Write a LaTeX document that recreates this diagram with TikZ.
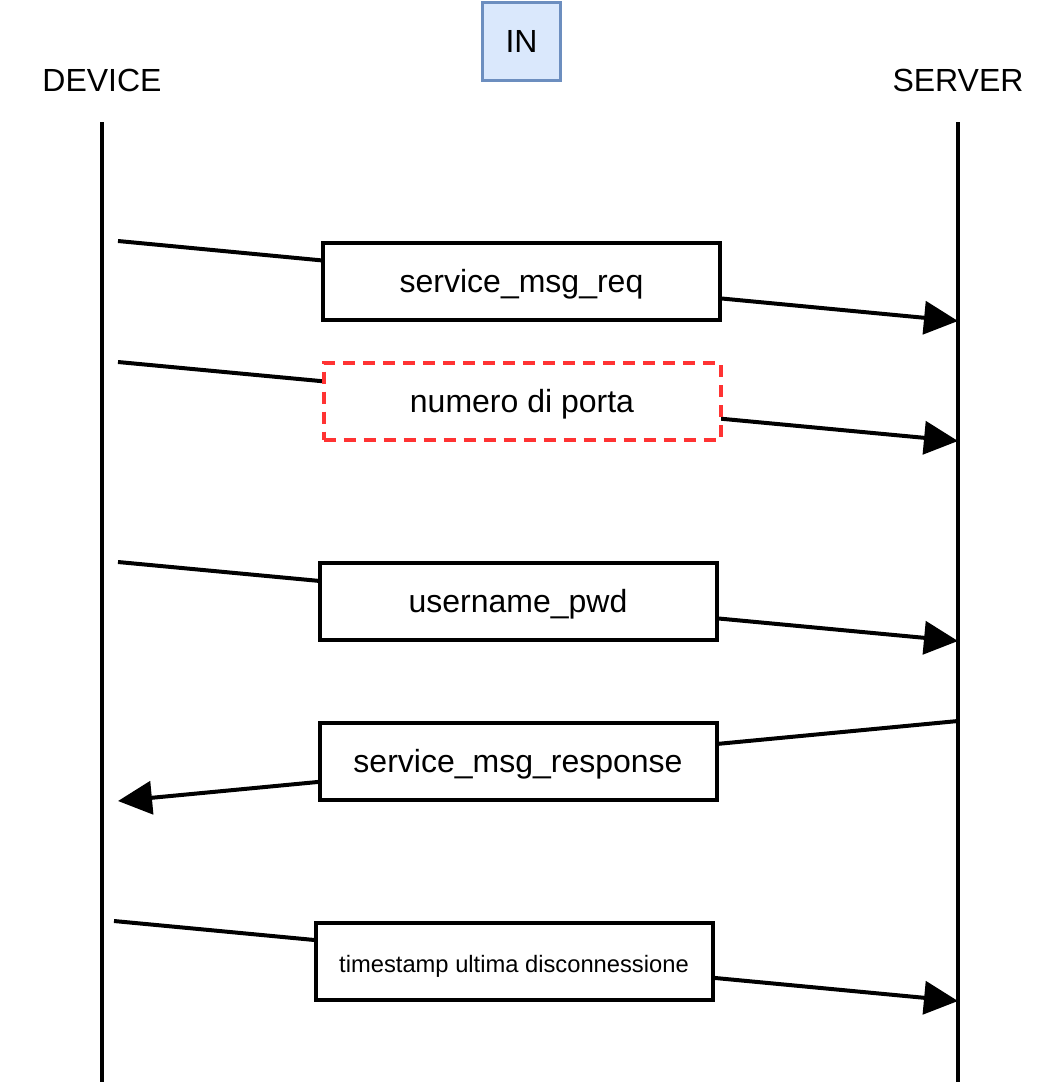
\documentclass[tikz,border=0pt]{standalone}
\usepackage{fontspec}
\setmainfont{Liberation Sans}
\usetikzlibrary{arrows.meta}
\definecolor{inFill}{HTML}{DAE8FC}
\definecolor{inDraw}{HTML}{6C8EBF}
\definecolor{dashRed}{HTML}{FF3333}
\begin{document}
\begin{tikzpicture}[x=0.75pt,y=-0.75pt,
  lifeline/.style={line width=3pt},
  msg/.style={line width=3pt, -{Triangle[length=25.5pt,width=24.75pt]}},
  msgbox/.style={draw, line width=3pt, fill=white, inner sep=0pt, outer sep=0pt,
    minimum width=297.75pt, minimum height=57.75pt, text height=22pt, text depth=5.5pt,
    font=\fontsize{24}{28}\selectfont},
  dashbox/.style={msgbox, draw=dashRed, dash pattern=on 9pt off 6pt},
  smallbox/.style={msgbox, font=\fontsize{17.8}{21}\selectfont},
  actor/.style={font=\fontsize{24}{28}\selectfont, inner sep=0pt},
  inbox/.style={draw=inDraw, fill=inFill, line width=2.25pt, minimum width=58.5pt,
    minimum height=58.5pt, inner sep=0pt, font=\fontsize{24}{28}\selectfont}
]
\useasboundingbox (0,0) rectangle (1060,1088);
% actors
\node[actor] (device) at (102,80) {DEVICE};
\node[actor] (server) at (958,80) {SERVER};
\node[inbox] (in) at (521.5,41.5) {IN};
% lifelines
\coordinate (dtop) at (102,122);
\coordinate (dbot) at (102,1082);
\coordinate (stop) at (958,122);
\coordinate (sbot) at (958,1082);
\draw[lifeline] (dtop) -- (dbot);
\draw[lifeline] (stop) -- (sbot);
% message end points
\coordinate (d1) at (118,241);  \coordinate (s1) at (958,321);
\coordinate (d2) at (118,362);  \coordinate (s2) at (958,441);
\coordinate (d3) at (118,562);  \coordinate (s3) at (958,641);
\coordinate (s4) at (958,721);  \coordinate (d4) at (118,801);
\coordinate (d5) at (114,921);  \coordinate (s5) at (958,1001);
\draw[msg] (d1) -- (s1);
\draw[msg] (d2) -- (s2);
\draw[msg] (d3) -- (s3);
\draw[msg] (s4) -- (d4);
\draw[msg] (d5) -- (s5);
% labels
\node[msgbox] (m1) at (521.5,281.5) {service\_msg\_req};
\node[dashbox] (m2) at (522,401) {numero di porta};
\node[msgbox] (m3) at (518,601.5) {username\_pwd};
\node[msgbox] (m4) at (518,761) {service\_msg\_response};
\node[smallbox] (m5) at (514,961) {timestamp ultima disconnessione};
\end{tikzpicture}
\end{document}
